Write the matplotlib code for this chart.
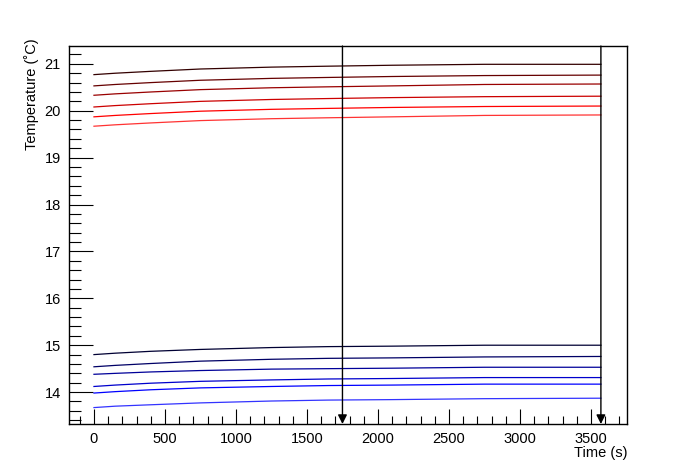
import matplotlib
matplotlib.use("Agg")
import matplotlib.pyplot as plt
from matplotlib.ticker import MultipleLocator

plt.rcParams['font.family'] = ['Liberation Sans', 'DejaVu Sans']

# time samples (s)
t = [0, 150, 400, 750, 1250, 1650, 2100, 2750, 3570]

red1 = [20.77, 20.80, 20.84, 20.89, 20.93, 20.95, 20.97, 20.99, 20.99]
red2 = [20.53, 20.56, 20.60, 20.65, 20.69, 20.71, 20.73, 20.75, 20.76]
red3 = [20.33, 20.36, 20.40, 20.45, 20.49, 20.51, 20.53, 20.56, 20.57]
red4 = [20.08, 20.11, 20.15, 20.20, 20.24, 20.26, 20.28, 20.30, 20.31]
red5 = [19.87, 19.90, 19.94, 19.99, 20.03, 20.05, 20.07, 20.09, 20.10]
red6 = [19.67, 19.70, 19.74, 19.79, 19.83, 19.85, 19.87, 19.90, 19.91]

blue1 = [14.80, 14.83, 14.87, 14.91, 14.95, 14.97, 14.98, 15.00, 15.00]
blue2 = [14.54, 14.57, 14.61, 14.66, 14.70, 14.72, 14.73, 14.75, 14.76]
blue3 = [14.38, 14.40, 14.43, 14.46, 14.49, 14.50, 14.51, 14.53, 14.53]
blue4 = [14.12, 14.15, 14.19, 14.23, 14.26, 14.28, 14.29, 14.31, 14.31]
blue5 = [13.98, 14.01, 14.05, 14.09, 14.12, 14.14, 14.15, 14.17, 14.17]
blue6 = [13.67, 13.70, 13.73, 13.77, 13.81, 13.83, 13.84, 13.86, 13.87]

reds = [red1, red2, red3, red4, red5, red6]
blues = [blue1, blue2, blue3, blue4, blue5, blue6]
red_colors = ["#330000", "#660000", "#990000", "#cc0000", "#ff0000", "#ff3333"]
blue_colors = ["#000033", "#000066", "#000099", "#0000cc", "#0000ff", "#3333ff"]

# markers (vertical arrows) at these times
arrow_times = [1750, 3570]

fig = plt.figure(figsize=(6.96, 4.72), dpi=100)
ax = fig.add_axes([0.0991, 0.1017, 0.9009 - 0.0991, 0.9025 - 0.1017])

for ys, c in zip(reds, red_colors):
    ax.plot(t, ys, color=c, lw=0.9)
for ys, c in zip(blues, blue_colors):
    ax.plot(t, ys, color=c, lw=0.9)

ax.set_xlim(-176, 3754)
ax.set_ylim(13.32, 21.38)

for xa in arrow_times:
    ax.annotate("", xy=(xa, 13.32), xytext=(xa, 21.38),
                arrowprops=dict(arrowstyle="-|>,head_width=0.3,head_length=0.6",
                                color="black", lw=1.0,
                                mutation_scale=9, shrinkA=0, shrinkB=0))

ax.xaxis.set_major_locator(MultipleLocator(500))
ax.xaxis.set_minor_locator(MultipleLocator(100))
ax.yaxis.set_major_locator(MultipleLocator(1))
ax.yaxis.set_minor_locator(MultipleLocator(0.2))

ax.tick_params(axis='both', which='both', direction='in', top=False, right=False,
               labelsize=10.5, width=0.8)
ax.tick_params(axis='x', which='major', length=11, pad=6)
ax.tick_params(axis='x', which='minor', length=6)
ax.tick_params(axis='y', which='major', length=17, pad=6)
ax.tick_params(axis='y', which='minor', length=8.5)

for s in ax.spines.values():
    s.set_linewidth(1.0)

ax.set_xlabel("Time (s)", fontsize=10.5, loc='right', labelpad=0)
ax.set_ylabel("Temperature (\u02daC)", fontsize=10.5, loc='top', labelpad=4)
ax.yaxis.label.set_y(1.02)

fig.savefig("out.png", dpi=100)
